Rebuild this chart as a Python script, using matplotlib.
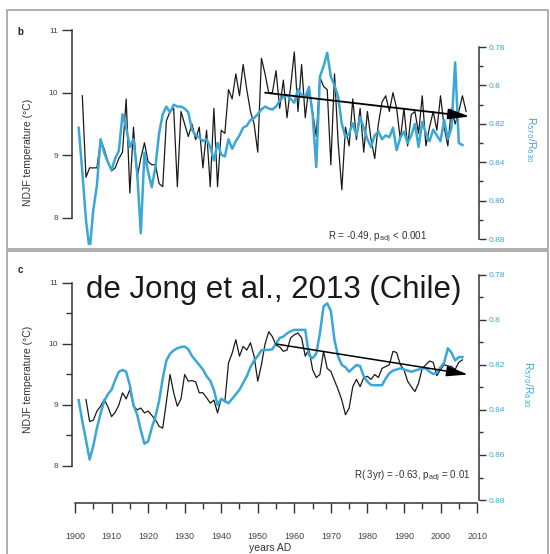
import numpy as np
import matplotlib
matplotlib.use("Agg")
import matplotlib.pyplot as plt
from matplotlib.patches import Rectangle
from matplotlib.ticker import MultipleLocator, FixedLocator

plt.rcParams['font.family'] = ['Liberation Sans', 'DejaVu Sans']

# ---------------- data ----------------
years_b_temp = list(range(1902, 2008))
temp_b = [
    9.95, 8.65, 8.80, 8.80, 8.80, 9.25, 9.10, 8.90, 8.75, 8.80,   # 1902-1911
    8.95, 9.05, 9.90, 8.40, 9.45, 8.65, 8.95, 9.20, 8.90, 8.85,   # 1912-1921
    8.85, 8.55, 8.50, 9.55, 9.70, 9.75, 8.50, 9.70, 9.50, 9.30,   # 1922-1931
    9.50, 9.25, 9.45, 8.80, 9.40, 8.50, 9.75, 8.50, 9.40, 9.35,   # 1932-1941
    10.05, 9.90, 10.30, 9.95, 10.45, 10.05, 9.70, 9.50, 9.05, 10.55,  # 1942-1951
    10.30, 10.00, 10.00, 10.35, 9.75, 10.20, 9.60, 10.10, 10.65, 9.70,  # 1952-1961
    10.45, 9.60, 10.10, 9.70, 9.30, 10.25, 10.10, 10.05, 8.85, 10.30,  # 1962-1971
    9.20, 8.45, 9.45, 9.15, 9.90, 9.25, 9.75, 9.05, 9.70, 9.25,   # 1972-1981
    8.95, 9.50, 9.85, 9.95, 9.70, 10.00, 9.75, 9.25, 9.75, 9.15,  # 1982-1991
    9.65, 9.70, 9.35, 9.95, 9.15, 9.45, 9.70, 9.40, 9.95, 9.45,   # 1992-2001
    9.15, 9.75, 9.50, 9.70, 9.95, 9.70,                           # 2002-2007
]
years_b_ratio = list(range(1901, 2007))
ratio_b = [
    0.822, 0.845, 0.870, 0.886, 0.865, 0.852, 0.828, 0.835, 0.840, 0.844,  # 1901-1910
    0.838, 0.834, 0.815, 0.822, 0.832, 0.828, 0.845, 0.877, 0.835, 0.845,  # 1911-1920
    0.853, 0.8425, 0.825, 0.815, 0.811, 0.814, 0.810, 0.811, 0.811, 0.812,  # 1921-1930
    0.814, 0.823, 0.826, 0.827, 0.829, 0.828, 0.832, 0.839, 0.830, 0.836,  # 1931-1940
    0.837, 0.828, 0.833, 0.829, 0.826, 0.822, 0.821, 0.818, 0.817, 0.815,  # 1941-1950
    0.8125, 0.811, 0.812, 0.8125, 0.811, 0.808, 0.806, 0.805, 0.807, 0.809,  # 1951-1960
    0.802, 0.805, 0.806, 0.801, 0.815, 0.8425, 0.7955, 0.790, 0.783, 0.7955,  # 1961-1970
    0.800, 0.806, 0.820, 0.827, 0.825, 0.8197, 0.826, 0.8165, 0.822, 0.828,  # 1971-1980
    0.832, 0.826, 0.824, 0.828, 0.826, 0.827, 0.822, 0.8337, 0.827, 0.824,  # 1981-1990
    0.830, 0.826, 0.820, 0.832, 0.819, 0.825, 0.829, 0.823, 0.826, 0.829,  # 1991-2000
    0.818, 0.828, 0.822, 0.788, 0.830, 0.831,                              # 2001-2006
]

years_c_temp = list(range(1903, 2007))
temp_c = [
    9.09, 8.73, 8.75, 8.90, 8.98, 9.09, 8.97, 8.81, 8.88, 9.00,   # 1903-1912
    9.20, 9.10, 9.25, 8.98, 8.92, 8.95, 8.87, 8.90, 8.83, 8.76,   # 1913-1922
    8.65, 8.62, 9.05, 9.50, 9.20, 8.98, 9.10, 9.50, 9.39, 9.40,   # 1923-1932
    9.38, 9.20, 9.20, 9.12, 9.03, 9.08, 8.87, 9.10, 9.05, 9.69,   # 1933-1942
    9.85, 10.07, 9.80, 9.96, 9.90, 10.02, 9.80, 9.39, 9.66, 10.00,  # 1943-1952
    10.20, 10.12, 9.98, 9.95, 9.88, 9.90, 10.10, 10.15, 10.18, 10.10,  # 1953-1962
    9.80, 9.92, 9.58, 9.45, 9.50, 9.88, 9.60, 9.55, 9.40, 9.25,   # 1963-1972
    9.08, 8.84, 8.95, 9.30, 9.42, 9.30, 9.45, 9.47, 9.42, 9.50,   # 1973-1982
    9.45, 9.60, 9.63, 9.66, 9.88, 9.86, 9.66, 9.58, 9.39, 9.30,   # 1983-1992
    9.22, 9.36, 9.60, 9.66, 9.72, 9.70, 9.48, 9.58, 9.66, 9.64,   # 1993-2002
    9.63, 9.58, 9.70, 9.74,                                       # 2003-2006
]
years_c_ratio = list(range(1901, 2007))
ratio_c = [
    0.8356, 0.845, 0.8533, 0.862, 0.856, 0.848, 0.8415, 0.836, 0.833, 0.831,  # 1901-1910
    0.8267, 0.823, 0.8222, 0.823, 0.829, 0.8378, 0.842, 0.849, 0.855, 0.854,  # 1911-1920
    0.848, 0.843, 0.836, 0.826, 0.818, 0.815, 0.8135, 0.8126, 0.812, 0.8118,  # 1921-1930
    0.813, 0.816, 0.818, 0.820, 0.822, 0.825, 0.827, 0.831, 0.8378, 0.835,  # 1931-1940
    0.836, 0.837, 0.835, 0.833, 0.831, 0.828, 0.825, 0.821, 0.818, 0.816,  # 1941-1950
    0.8135, 0.8133, 0.8133, 0.813, 0.8104, 0.808, 0.8074, 0.806, 0.805, 0.8044,  # 1951-1960
    0.8044, 0.8044, 0.8044, 0.8156, 0.817, 0.815, 0.806, 0.794, 0.7926, 0.796,  # 1961-1970
    0.8089, 0.8163, 0.820, 0.821, 0.823, 0.8215, 0.820, 0.8205, 0.825, 0.8274,  # 1971-1980
    0.8289, 0.829, 0.829, 0.829, 0.826, 0.8237, 0.8225, 0.822, 0.8215, 0.822,  # 1981-1990
    0.8225, 0.823, 0.8225, 0.822, 0.8215, 0.8215, 0.823, 0.824, 0.8235, 0.821,  # 1991-2000
    0.819, 0.8126, 0.8145, 0.818, 0.8165, 0.8165,                              # 2001-2006
]

trend_b = ([1952, 2008], [10.0, 9.62])
trend_c = ([1955, 2007.5], [10.0, 9.5])

left_ticks = [8, 9, 10, 11]
left_minor_ticks = [8.5, 9.5, 10.5]
right_ticks = [0.78, 0.8, 0.82, 0.84, 0.86, 0.88]
right_minor_ticks = [0.79, 0.81, 0.83, 0.85, 0.87]
right_labels = ['0.78', '0.8', '0.82', '0.84', '0.86', '0.88']
x_ticks = list(range(1900, 2011, 10))

assert len(years_b_temp) == len(temp_b)
assert len(years_b_ratio) == len(ratio_b)
assert len(years_c_temp) == len(temp_c)
assert len(years_c_ratio) == len(ratio_c)

# ---------------- layout ----------------
W, H = 550, 554
fig = plt.figure(figsize=(W / 100, H / 100), dpi=100)

def fx(px):
    return px / W

def fy(py):
    return 1 - py / H

BLUE = '#3aa7d5'
BLACK = '#1a1a1a'
GRAY = '#444444'

# frames
fig.add_artist(Rectangle((fx(7), fy(249)), fx(548) - fx(7), fy(10) - fy(249),
                         transform=fig.transFigure, fill=False, ec='#a8a8a8', lw=1.3))
fig.add_artist(Rectangle((fx(7), fy(556)), fx(548) - fx(7), fy(251) - fy(556),
                         transform=fig.transFigure, fill=False, ec='#a8a8a8', lw=1.3))

xlim = (1899.18, 2010.53)


def setup(ax, ax2, ylim_l, ylim_r, left_minor, show_x):
    ax.set_xlim(*xlim)
    ax.set_ylim(*ylim_l)
    ax2.set_ylim(*ylim_r)
    for a in (ax, ax2):
        a.patch.set_visible(False)
        a.spines['top'].set_visible(False)
    ax.spines['right'].set_visible(False)
    ax2.spines['left'].set_visible(False)
    ax2.spines['bottom'].set_visible(False)
    ax.spines['left'].set_bounds(8, 11)
    ax.spines['left'].set_color('#333333')
    ax2.spines['right'].set_bounds(0.78, 0.88)
    ax2.spines['right'].set_color('#333333')
    ax.spines['left'].set_linewidth(1.1)
    ax2.spines['right'].set_linewidth(1.1)
    ax.yaxis.set_major_locator(FixedLocator(left_ticks))
    ax.set_yticklabels([str(t) for t in left_ticks])
    if left_minor:
        ax.yaxis.set_minor_locator(FixedLocator(left_minor_ticks))
    ax.tick_params(axis='y', which='major', direction='out', length=7, width=1.0,
                   labelsize=6, labelcolor=GRAY, color='#333333', pad=3)
    ax.tick_params(axis='y', which='minor', direction='out', length=4, width=1.0,
                   color='#333333')
    ax2.yaxis.set_major_locator(FixedLocator(right_ticks))
    ax2.set_yticklabels(right_labels)
    ax2.yaxis.set_minor_locator(FixedLocator(right_minor_ticks))
    ax2.tick_params(axis='y', which='major', direction='out', length=5, width=1.0,
                    labelsize=6, labelcolor=BLUE, color='#333333', pad=2)
    ax2.tick_params(axis='y', which='minor', direction='out', length=3, width=1.0,
                    color='#333333')
    if show_x:
        ax.spines['bottom'].set_bounds(1900, 2010)
        ax.spines['bottom'].set_color('#333333')
        ax.spines['bottom'].set_linewidth(1.1)
        ax.xaxis.set_major_locator(FixedLocator(x_ticks))
        ax.set_xticklabels([str(t) for t in x_ticks])
        ax.xaxis.set_minor_locator(MultipleLocator(5))
        ax.tick_params(axis='x', which='major', direction='out', length=7, width=1.0,
                       labelsize=6.5, labelcolor=GRAY, color='#333333', pad=14)
        ax.tick_params(axis='x', which='minor', direction='out', length=4, width=1.0,
                       color='#333333')
    else:
        ax.spines['bottom'].set_visible(False)
        ax.set_xticks([])


ARROW = '-|>,head_length=1.3,head_width=0.32'

# ---------- top panel (b) ----------
axb = fig.add_axes([fx(72), fy(245), fx(479) - fx(72), fy(25) - fy(245)])
axb2 = axb.twinx()
setup(axb, axb2, (7.569, 11.08), (0.8831, 0.7685), False, False)
axb.plot(years_b_temp, temp_b, color=BLACK, lw=0.9)
axb2.plot(years_b_ratio, ratio_b, color=BLUE, lw=1.8)
axb2.annotate('', xy=(trend_b[0][1], trend_b[1][1]), xytext=(trend_b[0][0], trend_b[1][0]),
              xycoords=axb.transData, textcoords=axb.transData,
              arrowprops=dict(arrowstyle=ARROW, color='black', lw=1.3,
                              mutation_scale=10, shrinkA=0, shrinkB=0))

# ---------- bottom panel (c) ----------
axc = fig.add_axes([fx(72), fy(503), fx(479) - fx(72), fy(270) - fy(503)])
axc2 = axc.twinx()
setup(axc, axc2, (7.393, 11.213), (0.88133, 0.7778), True, True)
axc.plot(years_c_temp, temp_c, color=BLACK, lw=0.9)
axc2.plot(years_c_ratio, ratio_c, color=BLUE, lw=1.8)
axc2.annotate('', xy=(trend_c[0][1], trend_c[1][1]), xytext=(trend_c[0][0], trend_c[1][0]),
              xycoords=axc.transData, textcoords=axc.transData,
              arrowprops=dict(arrowstyle=ARROW, color='black', lw=1.1,
                              mutation_scale=10, shrinkA=0, shrinkB=0))

# ---------- texts ----------
fig.text(fx(20), fy(32), 'b', fontsize=7, fontweight='bold', color='#222', ha='center', va='center')
fig.text(fx(20), fy(270), 'c', fontsize=7, fontweight='bold', color='#222', ha='center', va='center')

fig.text(fx(28), fy(152), 'NDJF temperature (°C)', rotation=90, fontsize=7.5,
         color='#333', ha='center', va='center')
fig.text(fx(28), fy(379), 'NDJF temperature (°C)', rotation=90, fontsize=7.5,
         color='#333', ha='center', va='center')

fig.text(fx(531), fy(140), r'R$_{\rm 570}$/R$_{\rm 630}$', rotation=270, fontsize=7.5,
         color=BLUE, ha='center', va='center')
fig.text(fx(528), fy(385), r'R$_{\rm 570}$/R$_{\rm 630}$', rotation=270, fontsize=7.5,
         color=BLUE, ha='center', va='center')

fig.text(fx(378), fy(237), r'R = -0.49, p$_{\rm adj}$ < 0.001', fontsize=7,
         color='#333', ha='center', va='center')
fig.text(fx(412), fy(476), r'R( 3yr) = -0.63, p$_{\rm adj}$ = 0.01', fontsize=7,
         color='#333', ha='center', va='center')

fig.text(fx(274), fy(290), 'de Jong et al., 2013 (Chile)', fontsize=22.5,
         color='#1a1a1a', ha='center', va='center')

fig.text(fx(270), fy(548), 'years AD', fontsize=7.5, color='#333', ha='center', va='center')

fig.savefig('out.png', dpi=100)
